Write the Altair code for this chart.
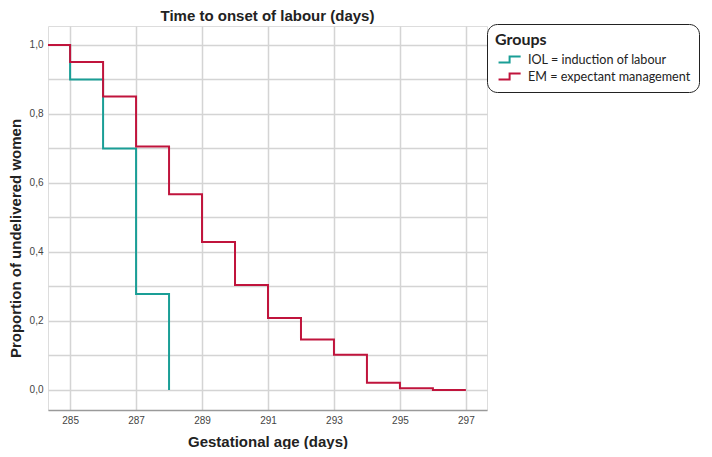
import altair as alt
import pandas as pd

# Kaplan-Meier style step data
iol_days = [284, 285, 286, 287, 288]
iol_prop = [1.0, 0.90, 0.70, 0.278, 0.0]

em_days = [284, 285, 286, 287, 288, 289, 290, 291, 292, 293, 294, 295, 296, 297]
em_prop = [1.0, 0.951, 0.851, 0.706, 0.567, 0.429, 0.304, 0.209, 0.146, 0.102, 0.021, 0.005, 0.0, 0.0]

groups = ["IOL = induction of labour", "EM = expectant management"]
colors = ["#1a9e96", "#c0143c"]

x_ticks = [285, 287, 289, 291, 293, 295, 297]
y_ticks = [0.0, 0.1, 0.2, 0.3, 0.4, 0.5, 0.6, 0.7, 0.8, 0.9, 1.0]

rows = []
for d, p in zip(iol_days, iol_prop):
    rows.append({"day": d, "prop": p, "group": groups[0], "order": 0})
for d, p in zip(em_days, em_prop):
    rows.append({"day": d, "prop": p, "group": groups[1], "order": 1})
df = pd.DataFrame(rows)

FONT = "Liberation Sans"

chart = alt.Chart(df).mark_line(interpolate="step-after", strokeWidth=2, clip=True).encode(
    x=alt.X(
        "day:Q",
        scale=alt.Scale(domain=[284.33, 297.64], nice=False, zero=False),
        axis=alt.Axis(
            values=x_ticks,
            title="Gestational age (days)",
            format="d",
            ticks=False,
            labelPadding=5,
            labelFontSize=10,
            labelColor="#444444",
            labelFont=FONT,
            titleFont=FONT,
            titleFontSize=15,
            titleFontWeight="bold",
            titleColor="#222222",
            titlePadding=9,
            domainColor="#9a9a9a",
            domainWidth=1.5,
            gridColor="#d4d4d4",
            gridWidth=1.5,
        ),
    ),
    y=alt.Y(
        "prop:Q",
        scale=alt.Scale(domain=[-0.058, 1.055], nice=False, zero=False),
        axis=alt.Axis(
            values=y_ticks,
            title="Proportion of undelivered women",
            labelExpr="(round(datum.value*10) % 2 == 0) ? replace(format(datum.value, '.1f'), '.', ',') : ''",
            ticks=False,
            domain=False,
            labelPadding=5,
            labelFontSize=10,
            labelColor="#444444",
            labelFont=FONT,
            titleFont=FONT,
            titleFontSize=15,
            titleFontWeight="bold",
            titleColor="#222222",
            titleX=-25,
            titleY=212,
            gridColor="#d4d4d4",
            gridWidth=1.5,
        ),
    ),
    color=alt.Color(
        "group:N",
        scale=alt.Scale(domain=groups, range=colors),
        legend=alt.Legend(
            title="Groups",
            orient="none",
            legendX=439,
            legendY=-2,
            symbolType="M-0.7,0.35H0.6V-0.35H1.9",
            symbolSize=289,
            symbolStrokeWidth=2,
            symbolFillColor="transparent",
            labelOffset=14,
            labelFont="Lato",
            labelFontSize=12.6,
            labelLimit=0,
            labelColor="#222222",
            titleFont="Lato",
            titleFontSize=16,
            titleFontWeight="bold",
            titleColor="#222222",
            titlePadding=2,
            rowPadding=0,
            padding=8,
            strokeColor="#222222",
            cornerRadius=10,
            fillColor="white",
        ),
    ),
    order="order:Q",
    detail="group:N",
).properties(
    width=439,
    height=384,
    padding=0,
    title=alt.TitleParams(
        "Time to onset of labour (days)",
        font=FONT,
        fontSize=15,
        fontWeight="bold",
        color="#222222",
        anchor="middle",
        frame="group",
        offset=0,
    ),
).configure_view(stroke=None).configure(background="white")

chart.save("out.html", embed_options={"renderer": "svg", "actions": False})
